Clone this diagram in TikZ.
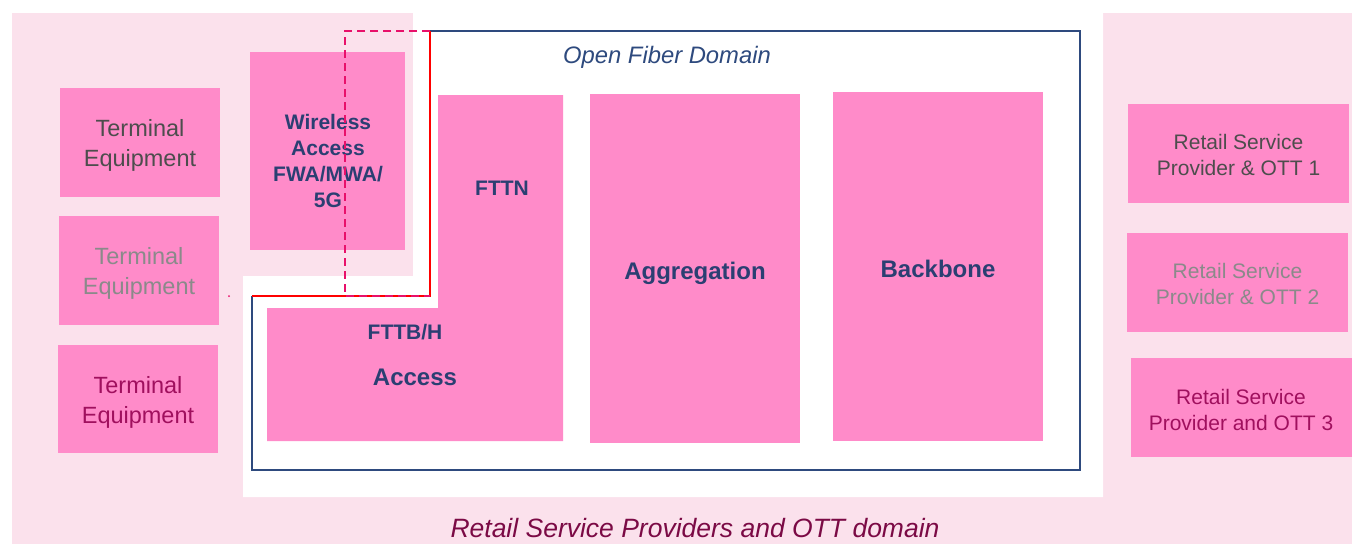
\documentclass[tikz,border=0pt]{standalone}
\usepackage{fontspec}
\setmainfont{Liberation Sans}
\definecolor{bgpink}{HTML}{FBE1EC}
\definecolor{boxpink}{HTML}{FF8BC9}
\definecolor{ofnavy}{HTML}{2E4A7E}
\definecolor{lblnavy}{HTML}{2B3F72}
\definecolor{txtdark}{HTML}{4D4D4D}
\definecolor{txtgrey}{HTML}{8A8A8A}
\definecolor{txtmag}{HTML}{A0105E}
\definecolor{domtxt}{HTML}{7B0A45}
\definecolor{pathred}{HTML}{FF0000}
\definecolor{pathdash}{HTML}{E8106A}
\tikzset{
  box/.style={fill=boxpink, draw=none, inner sep=0pt, outer sep=0pt},
  termtxt/.style={inner sep=0pt, align=center, font=\fontsize{23.5}{29.5}\selectfont},
  rsptxt/.style={inner sep=0pt, align=center, font=\fontsize{21}{25.5}\selectfont},
  netlbl/.style={text=lblnavy, inner sep=0pt, font=\fontsize{24}{28}\selectfont\bfseries},
  sublbl/.style={text=lblnavy, inner sep=0pt, font=\fontsize{21}{26}\selectfont\bfseries},
}
\begin{document}
\begin{tikzpicture}[x=1pt,y=-1pt]
\useasboundingbox (0,0) rectangle (1352,544);

% retail domain background with the open-fiber area cut out in white
\fill[bgpink] (12,13) rectangle (1352,544);
\fill[white] (243,276) -- (413,276) -- (413,13) -- (1103,13) -- (1103,497) -- (243,497) -- cycle;

% terminal equipment
\node[box, minimum width=160pt, minimum height=109pt] (te1) at (140,142.5) {};
\node[termtxt, text=txtdark] (te1lbl) at (140,145.5) {Terminal\\Equipment};
\node[box, minimum width=160pt, minimum height=109pt] (te2) at (139,270.5) {};
\node[termtxt, text=txtgrey] (te2lbl) at (139,273.5) {Terminal\\Equipment};
\node[box, minimum width=160pt, minimum height=108pt] (te3) at (138,399) {};
\node[termtxt, text=txtmag] (te3lbl) at (138,402.5) {Terminal\\Equipment};

% wireless access
\node[box, minimum width=155pt, minimum height=198pt] (wa) at (327.5,151) {};
\node[sublbl, align=center, font=\fontsize{21}{25.7}\selectfont\bfseries] (walbl) at (328,161) {Wireless\\Access\\FWA/MWA/\\5G};

% fixed access: FTTN column joined with the FTTB/H block
\fill[boxpink] (438,95) -- (563,95) -- (563,441) -- (267,441) -- (267,308) -- (438,308) -- cycle;
\node[sublbl] (fttn) at (502,188) {FTTN};
\node[sublbl] (fttb) at (405,332) {FTTB/H};
\node[netlbl] (acc) at (415,377) {Access};

% aggregation and backbone
\node[box, minimum width=210pt, minimum height=349pt] (agg) at (695,268.5) {};
\node[netlbl] (agglbl) at (695,273) {Aggregation};
\node[box, minimum width=210pt, minimum height=349pt] (bb) at (938,266.5) {};
\node[netlbl] (bblbl) at (938,269) {Backbone};

% retail service providers
\node[box, minimum width=221pt, minimum height=99pt] (rsp1) at (1238.5,153.5) {};
\node[rsptxt, text=txtdark] (rsp1lbl) at (1238.5,155) {Retail Service\\Provider \& OTT 1};
\node[box, minimum width=221pt, minimum height=99pt] (rsp2) at (1237.5,282.5) {};
\node[rsptxt, text=txtgrey] (rsp2lbl) at (1237.5,284) {Retail Service\\Provider \& OTT 2};
\node[box, minimum width=221pt, minimum height=99pt] (rsp3) at (1241.5,407.5) {};
\node[rsptxt, text=txtmag] (rsp3lbl) at (1241,410) {Retail Service\\Provider and OTT 3};

% open fiber domain boundary
\coordinate (ofa) at (252,296);
\coordinate (ofb) at (430,296);
\coordinate (ofc) at (430,31);
\coordinate (ofd) at (1080,31);
\coordinate (ofe) at (1080,470);
\coordinate (off) at (252,470);
\draw[ofnavy, line width=2.4pt, line join=miter] (ofa) -- (off) -- (ofe) -- (ofd) -- (ofc);
\draw[pathred, line width=2.2pt, line join=miter] (ofa) -- (ofb) -- (ofc);
\coordinate (wda) at (345,31);
\coordinate (wdb) at (345,296);
\draw[pathdash, line width=2.2pt, dash pattern=on 8pt off 5pt] (ofc) -- (wda) -- (wdb) -- (ofb);
\fill[pathdash] (229,296) circle (1pt);

\node[text=ofnavy, inner sep=0pt, font=\fontsize{23.8}{28}\selectfont\itshape] (oflbl) at (667,57) {Open Fiber Domain};
\node[text=domtxt, inner sep=0pt, font=\fontsize{26.5}{30}\selectfont\itshape] (domlbl) at (695,528) {Retail Service Providers and OTT domain};
\end{tikzpicture}
\end{document}
